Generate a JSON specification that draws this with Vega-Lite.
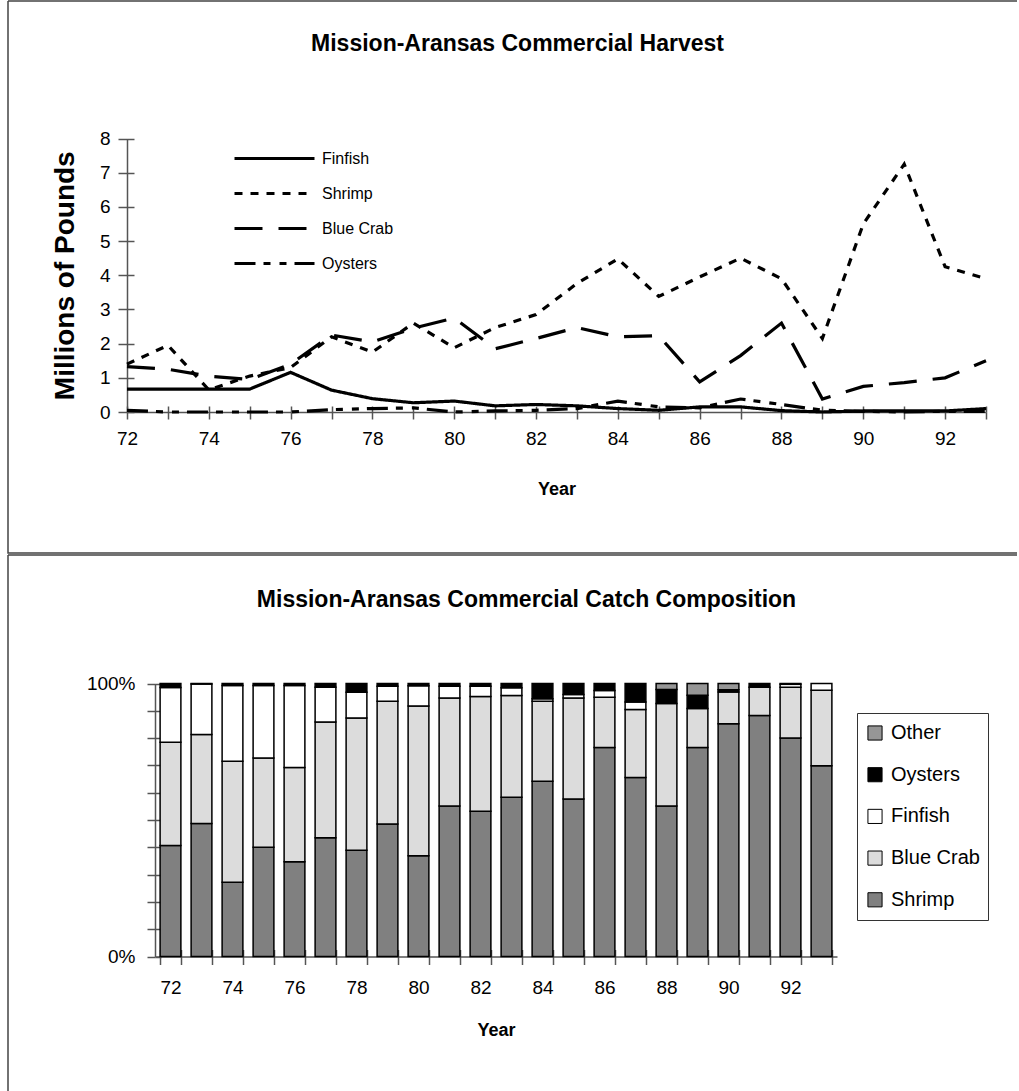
{
  "$schema": "https://vega.github.io/schema/vega-lite/v6.json",
  "padding": {"left": 7, "top": 0, "right": 0, "bottom": 0},
  "spacing": 0,
  "config": {
    "view": {"stroke": "#444", "strokeWidth": 1.5},
    "axis": {"grid": false, "domainColor": "#555", "tickColor": "#555", "domainWidth": 1.5, "tickWidth": 1.5, "labelColor": "black", "titleColor": "black", "labelFont": "Liberation Sans", "titleFont": "Liberation Sans"},
    "legend": {"labelFont": "Liberation Sans", "labelColor": "black"},
    "title": {"font": "Liberation Sans", "color": "black"}
  },
  "datasets": {
    "harvest": [
      {"year": 72, "species": "Finfish", "value": 0.67}, {"year": 72, "species": "Shrimp", "value": 1.40}, {"year": 72, "species": "Blue Crab", "value": 1.33}, {"year": 72, "species": "Oysters", "value": 0.05},
      {"year": 73, "species": "Finfish", "value": 0.67}, {"year": 73, "species": "Shrimp", "value": 1.95}, {"year": 73, "species": "Blue Crab", "value": 1.25}, {"year": 73, "species": "Oysters", "value": 0.0},
      {"year": 74, "species": "Finfish", "value": 0.67}, {"year": 74, "species": "Shrimp", "value": 0.65}, {"year": 74, "species": "Blue Crab", "value": 1.05}, {"year": 74, "species": "Oysters", "value": 0.0},
      {"year": 75, "species": "Finfish", "value": 0.67}, {"year": 75, "species": "Shrimp", "value": 1.05}, {"year": 75, "species": "Blue Crab", "value": 0.95}, {"year": 75, "species": "Oysters", "value": 0.0},
      {"year": 76, "species": "Finfish", "value": 1.16}, {"year": 76, "species": "Shrimp", "value": 1.30}, {"year": 76, "species": "Blue Crab", "value": 1.40}, {"year": 76, "species": "Oysters", "value": 0.0},
      {"year": 77, "species": "Finfish", "value": 0.64}, {"year": 77, "species": "Shrimp", "value": 2.20}, {"year": 77, "species": "Blue Crab", "value": 2.25}, {"year": 77, "species": "Oysters", "value": 0.07},
      {"year": 78, "species": "Finfish", "value": 0.39}, {"year": 78, "species": "Shrimp", "value": 1.75}, {"year": 78, "species": "Blue Crab", "value": 2.05}, {"year": 78, "species": "Oysters", "value": 0.10},
      {"year": 79, "species": "Finfish", "value": 0.27}, {"year": 79, "species": "Shrimp", "value": 2.60}, {"year": 79, "species": "Blue Crab", "value": 2.45}, {"year": 79, "species": "Oysters", "value": 0.12},
      {"year": 80, "species": "Finfish", "value": 0.32}, {"year": 80, "species": "Shrimp", "value": 1.88}, {"year": 80, "species": "Blue Crab", "value": 2.75}, {"year": 80, "species": "Oysters", "value": 0.0},
      {"year": 81, "species": "Finfish", "value": 0.18}, {"year": 81, "species": "Shrimp", "value": 2.47}, {"year": 81, "species": "Blue Crab", "value": 1.85}, {"year": 81, "species": "Oysters", "value": 0.03},
      {"year": 82, "species": "Finfish", "value": 0.22}, {"year": 82, "species": "Shrimp", "value": 2.85}, {"year": 82, "species": "Blue Crab", "value": 2.15}, {"year": 82, "species": "Oysters", "value": 0.05},
      {"year": 83, "species": "Finfish", "value": 0.18}, {"year": 83, "species": "Shrimp", "value": 3.76}, {"year": 83, "species": "Blue Crab", "value": 2.47}, {"year": 83, "species": "Oysters", "value": 0.10},
      {"year": 84, "species": "Finfish", "value": 0.10}, {"year": 84, "species": "Shrimp", "value": 4.48}, {"year": 84, "species": "Blue Crab", "value": 2.20}, {"year": 84, "species": "Oysters", "value": 0.32},
      {"year": 85, "species": "Finfish", "value": 0.05}, {"year": 85, "species": "Shrimp", "value": 3.38}, {"year": 85, "species": "Blue Crab", "value": 2.23}, {"year": 85, "species": "Oysters", "value": 0.15},
      {"year": 86, "species": "Finfish", "value": 0.15}, {"year": 86, "species": "Shrimp", "value": 3.95}, {"year": 86, "species": "Blue Crab", "value": 0.88}, {"year": 86, "species": "Oysters", "value": 0.12},
      {"year": 87, "species": "Finfish", "value": 0.15}, {"year": 87, "species": "Shrimp", "value": 4.50}, {"year": 87, "species": "Blue Crab", "value": 1.65}, {"year": 87, "species": "Oysters", "value": 0.38},
      {"year": 88, "species": "Finfish", "value": 0.04}, {"year": 88, "species": "Shrimp", "value": 3.90}, {"year": 88, "species": "Blue Crab", "value": 2.60}, {"year": 88, "species": "Oysters", "value": 0.22},
      {"year": 89, "species": "Finfish", "value": 0.0}, {"year": 89, "species": "Shrimp", "value": 2.15}, {"year": 89, "species": "Blue Crab", "value": 0.38}, {"year": 89, "species": "Oysters", "value": 0.05},
      {"year": 90, "species": "Finfish", "value": 0.03}, {"year": 90, "species": "Shrimp", "value": 5.50}, {"year": 90, "species": "Blue Crab", "value": 0.75}, {"year": 90, "species": "Oysters", "value": 0.02},
      {"year": 91, "species": "Finfish", "value": 0.03}, {"year": 91, "species": "Shrimp", "value": 7.25}, {"year": 91, "species": "Blue Crab", "value": 0.86}, {"year": 91, "species": "Oysters", "value": 0.0},
      {"year": 92, "species": "Finfish", "value": 0.03}, {"year": 92, "species": "Shrimp", "value": 4.25}, {"year": 92, "species": "Blue Crab", "value": 1.00}, {"year": 92, "species": "Oysters", "value": 0.02},
      {"year": 93, "species": "Finfish", "value": 0.10}, {"year": 93, "species": "Shrimp", "value": 3.90}, {"year": 93, "species": "Blue Crab", "value": 1.50}, {"year": 93, "species": "Oysters", "value": 0.02}
    ],
    "comp": [
      {"year": 72, "category": "Shrimp", "rank": 1, "pct": 40.7}, {"year": 72, "category": "Blue Crab", "rank": 2, "pct": 37.8}, {"year": 72, "category": "Finfish", "rank": 3, "pct": 20.0}, {"year": 72, "category": "Oysters", "rank": 4, "pct": 1.5},
      {"year": 73, "category": "Shrimp", "rank": 1, "pct": 48.7}, {"year": 73, "category": "Blue Crab", "rank": 2, "pct": 32.6}, {"year": 73, "category": "Finfish", "rank": 3, "pct": 18.5}, {"year": 73, "category": "Oysters", "rank": 4, "pct": 0.2},
      {"year": 74, "category": "Shrimp", "rank": 1, "pct": 27.2}, {"year": 74, "category": "Blue Crab", "rank": 2, "pct": 44.3}, {"year": 74, "category": "Finfish", "rank": 3, "pct": 27.8}, {"year": 74, "category": "Oysters", "rank": 4, "pct": 0.7},
      {"year": 75, "category": "Shrimp", "rank": 1, "pct": 40.0}, {"year": 75, "category": "Blue Crab", "rank": 2, "pct": 32.7}, {"year": 75, "category": "Finfish", "rank": 3, "pct": 26.6}, {"year": 75, "category": "Oysters", "rank": 4, "pct": 0.7},
      {"year": 76, "category": "Shrimp", "rank": 1, "pct": 34.7}, {"year": 76, "category": "Blue Crab", "rank": 2, "pct": 34.5}, {"year": 76, "category": "Finfish", "rank": 3, "pct": 30.1}, {"year": 76, "category": "Oysters", "rank": 4, "pct": 0.7},
      {"year": 77, "category": "Shrimp", "rank": 1, "pct": 43.5}, {"year": 77, "category": "Blue Crab", "rank": 2, "pct": 42.4}, {"year": 77, "category": "Finfish", "rank": 3, "pct": 12.7}, {"year": 77, "category": "Oysters", "rank": 4, "pct": 1.4},
      {"year": 78, "category": "Shrimp", "rank": 1, "pct": 38.9}, {"year": 78, "category": "Blue Crab", "rank": 2, "pct": 48.5}, {"year": 78, "category": "Finfish", "rank": 3, "pct": 9.4}, {"year": 78, "category": "Oysters", "rank": 4, "pct": 3.2},
      {"year": 79, "category": "Shrimp", "rank": 1, "pct": 48.5}, {"year": 79, "category": "Blue Crab", "rank": 2, "pct": 45.0}, {"year": 79, "category": "Finfish", "rank": 3, "pct": 5.5}, {"year": 79, "category": "Oysters", "rank": 4, "pct": 1.0},
      {"year": 80, "category": "Shrimp", "rank": 1, "pct": 36.9}, {"year": 80, "category": "Blue Crab", "rank": 2, "pct": 54.9}, {"year": 80, "category": "Finfish", "rank": 3, "pct": 7.4}, {"year": 80, "category": "Oysters", "rank": 4, "pct": 0.8},
      {"year": 81, "category": "Shrimp", "rank": 1, "pct": 55.1}, {"year": 81, "category": "Blue Crab", "rank": 2, "pct": 39.6}, {"year": 81, "category": "Finfish", "rank": 3, "pct": 4.3}, {"year": 81, "category": "Oysters", "rank": 4, "pct": 1.0},
      {"year": 82, "category": "Shrimp", "rank": 1, "pct": 53.2}, {"year": 82, "category": "Blue Crab", "rank": 2, "pct": 42.0}, {"year": 82, "category": "Finfish", "rank": 3, "pct": 3.8}, {"year": 82, "category": "Oysters", "rank": 4, "pct": 1.0},
      {"year": 83, "category": "Shrimp", "rank": 1, "pct": 58.3}, {"year": 83, "category": "Blue Crab", "rank": 2, "pct": 37.3}, {"year": 83, "category": "Finfish", "rank": 3, "pct": 2.8}, {"year": 83, "category": "Oysters", "rank": 4, "pct": 1.6},
      {"year": 84, "category": "Shrimp", "rank": 1, "pct": 64.2}, {"year": 84, "category": "Blue Crab", "rank": 2, "pct": 29.3}, {"year": 84, "category": "Finfish", "rank": 3, "pct": 0.9}, {"year": 84, "category": "Oysters", "rank": 4, "pct": 5.6},
      {"year": 85, "category": "Shrimp", "rank": 1, "pct": 57.7}, {"year": 85, "category": "Blue Crab", "rank": 2, "pct": 37.0}, {"year": 85, "category": "Finfish", "rank": 3, "pct": 1.3}, {"year": 85, "category": "Oysters", "rank": 4, "pct": 4.0},
      {"year": 86, "category": "Shrimp", "rank": 1, "pct": 76.6}, {"year": 86, "category": "Blue Crab", "rank": 2, "pct": 18.4}, {"year": 86, "category": "Finfish", "rank": 3, "pct": 2.4}, {"year": 86, "category": "Oysters", "rank": 4, "pct": 2.6},
      {"year": 87, "category": "Shrimp", "rank": 1, "pct": 65.6}, {"year": 87, "category": "Blue Crab", "rank": 2, "pct": 24.9}, {"year": 87, "category": "Finfish", "rank": 3, "pct": 2.7}, {"year": 87, "category": "Oysters", "rank": 4, "pct": 6.8},
      {"year": 88, "category": "Shrimp", "rank": 1, "pct": 55.1}, {"year": 88, "category": "Blue Crab", "rank": 2, "pct": 37.6}, {"year": 88, "category": "Oysters", "rank": 4, "pct": 5.1}, {"year": 88, "category": "Other", "rank": 5, "pct": 2.2},
      {"year": 89, "category": "Shrimp", "rank": 1, "pct": 76.6}, {"year": 89, "category": "Blue Crab", "rank": 2, "pct": 14.2}, {"year": 89, "category": "Oysters", "rank": 4, "pct": 4.9}, {"year": 89, "category": "Other", "rank": 5, "pct": 4.3},
      {"year": 90, "category": "Shrimp", "rank": 1, "pct": 85.3}, {"year": 90, "category": "Blue Crab", "rank": 2, "pct": 11.6}, {"year": 90, "category": "Oysters", "rank": 4, "pct": 0.8}, {"year": 90, "category": "Other", "rank": 5, "pct": 2.3},
      {"year": 91, "category": "Shrimp", "rank": 1, "pct": 88.3}, {"year": 91, "category": "Blue Crab", "rank": 2, "pct": 10.3}, {"year": 91, "category": "Oysters", "rank": 4, "pct": 1.4},
      {"year": 92, "category": "Shrimp", "rank": 1, "pct": 80.0}, {"year": 92, "category": "Blue Crab", "rank": 2, "pct": 18.6}, {"year": 92, "category": "Finfish", "rank": 3, "pct": 1.1}, {"year": 92, "category": "Oysters", "rank": 4, "pct": 0.3},
      {"year": 93, "category": "Shrimp", "rank": 1, "pct": 69.9}, {"year": 93, "category": "Blue Crab", "rank": 2, "pct": 27.6}, {"year": 93, "category": "Finfish", "rank": 3, "pct": 2.5}
    ]
  },
  "vconcat": [
    {
      "data": {"name": "harvest"},
      "width": 1009,
      "height": 552,
      "view": {"stroke": "#444", "strokeWidth": 1.5, "strokeDash": [1009, 552, 1561, 0]},
      "title": {"text": "Mission-Aransas Commercial Harvest", "anchor": "middle", "frame": "group", "offset": -55, "fontSize": 23, "fontWeight": "bold", "dx": 5},
      "layer": [
        {
          "mark": {"type": "line", "strokeWidth": 3.2, "color": "black", "strokeCap": "butt"},
          "encoding": {
            "x": {"field": "year", "type": "quantitative",
              "scale": {"domain": [72, 93], "range": [119, 978], "nice": false, "zero": false},
              "axis": {"orient": "bottom", "offset": -141, "values": [72,73,74,75,76,77,78,79,80,81,82,83,84,85,86,87,88,89,90,91,92,93], "format": "d", "labelExpr": "datum.value % 2 == 0 ? datum.label : ''", "tickSize": 7, "labelFontSize": 19, "labelPadding": 10, "labelFlush": false, "labelOverlap": false, "title": "Year", "titleFontSize": 18, "titleFontWeight": "bold", "titlePadding": 32}},
            "y": {"field": "value", "type": "quantitative",
              "scale": {"domain": [0, 8], "range": [411, 137.5], "nice": false},
              "axis": {"orient": "left", "offset": -119, "values": [0,1,2,3,4,5,6,7,8], "tickSize": 9, "labelPadding": 8, "labelFontSize": 19, "title": "Millions of Pounds", "titleFontSize": 28, "titleFontWeight": "bold", "titlePadding": 20}},
            "strokeDash": {"field": "species", "type": "nominal",
              "scale": {"domain": ["Finfish", "Shrimp", "Blue Crab", "Oysters"], "range": [[1, 0], [8, 8], [28, 16], [21, 8, 7, 9, 7, 8]]},
              "legend": {"orient": "none", "legendX": 225, "legendY": 140, "title": null, "symbolType": "stroke", "symbolSize": 6400, "symbolStrokeWidth": 3, "symbolStrokeColor": "black", "labelFontSize": 16, "labelOffset": 6, "clipHeight": 35, "rowPadding": 0, "padding": 0}}
          }
        },
        {
          "mark": {"type": "point", "opacity": 0},
          "encoding": {
            "x": {"field": "year", "type": "quantitative", "axis": {"orient": "top", "offset": -411, "values": [72,73,74,75,76,77,78,79,80,81,82,83,84,85,86,87,88,89,90,91,92,93], "labels": false, "domain": false, "tickSize": 6, "title": null}},
            "y": {"field": "value", "type": "quantitative", "axis": {"orient": "right", "offset": -890, "values": [0,1,2,3,4,5,6,7,8], "labels": false, "domain": false, "tickSize": 7, "title": null}}
          }
        }
      ],
      "resolve": {"axis": {"x": "independent", "y": "independent"}}
    },
    {
      "data": {"name": "comp"},
      "width": 1009,
      "height": 536,
      "view": {"stroke": "#444", "strokeWidth": 1.5, "strokeDash": [1009, 1545, 536, 0]},
      "title": {"text": "Mission-Aransas Commercial Catch Composition", "anchor": "middle", "frame": "group", "offset": -57, "fontSize": 23, "fontWeight": "bold", "dx": 14},
      "layer": [
        {
          "mark": {"type": "bar", "stroke": "black", "strokeWidth": 1.5},
          "encoding": {
            "x": {"field": "year", "type": "ordinal",
              "scale": {"range": [147, 829], "paddingInner": 0.33, "paddingOuter": 0.165},
              "axis": {"orient": "bottom", "offset": -134.5, "tickBand": "extent", "tickSize": 8, "labelAngle": 0, "labelExpr": "datum.value % 2 == 0 ? datum.label : ''", "labelFontSize": 19, "labelPadding": 14, "labelOverlap": false, "title": "Year", "titleFontSize": 18, "titleFontWeight": "bold", "titlePadding": 24}},
            "y": {"field": "pct", "type": "quantitative", "stack": "normalize",
              "scale": {"domain": [0, 1], "range": [401.5, 128.5], "nice": false},
              "axis": {"orient": "left", "offset": -147, "values": [0,0.1,0.2,0.3,0.4,0.5,0.6,0.7,0.8,0.9,1], "format": ".0%", "labelExpr": "datum.value < 0.001 || datum.value > 0.999 ? datum.label : ''", "tickSize": 8, "labelPadding": 12, "labelFontSize": 19, "title": null}},
            "color": {"field": "category", "type": "nominal",
              "scale": {"domain": ["Other", "Oysters", "Finfish", "Blue Crab", "Shrimp"], "range": ["#969696", "#000000", "#ffffff", "#dcdcdc", "#808080"]},
              "legend": {"orient": "none", "legendX": 849, "legendY": 712, "title": null, "symbolType": "square", "symbolSize": 200, "symbolStrokeColor": "black", "symbolStrokeWidth": 1, "symbolOpacity": 1, "labelFontSize": 20, "labelOffset": 6, "clipHeight": 24, "rowPadding": 17.7, "padding": 8, "strokeColor": "#333", "fillColor": "white"}},
            "order": {"field": "rank", "type": "quantitative"}
          }
        },
        {
          "mark": {"type": "point", "opacity": 0},
          "encoding": {
            "x": {"field": "year", "type": "ordinal", "axis": {"orient": "top", "offset": -401.5, "tickBand": "extent", "labels": false, "domain": false, "tickSize": 7, "title": null}},
            "y": {"field": "pct", "type": "quantitative", "stack": "normalize", "axis": {"orient": "right", "offset": -862, "values": [0,0.1,0.2,0.3,0.4,0.5,0.6,0.7,0.8,0.9,1], "labels": false, "domain": false, "tickSize": 6, "title": null}}
          }
        }
      ],
      "resolve": {"axis": {"x": "independent", "y": "independent"}}
    }
  ]
}
